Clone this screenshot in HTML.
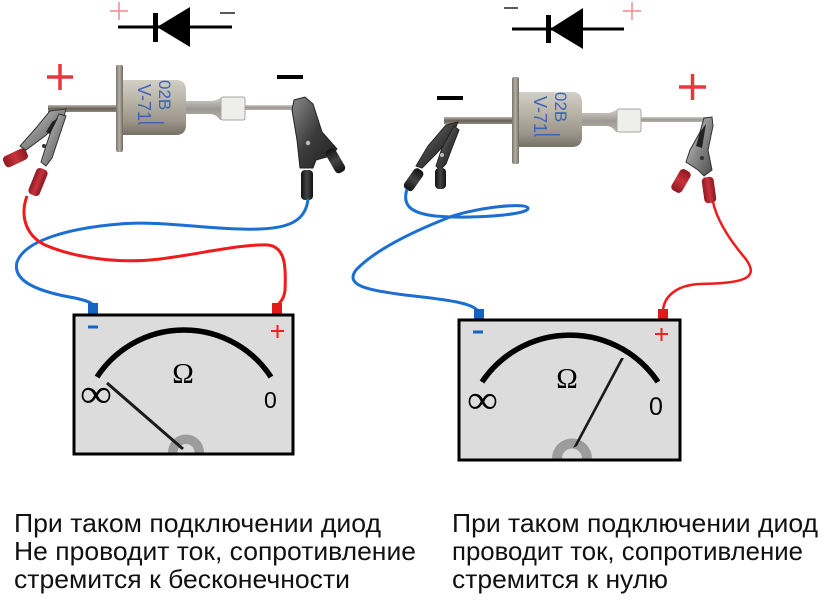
<!DOCTYPE html>
<html><head><meta charset="utf-8"><style>
html,body{margin:0;padding:0;background:#fff;}
svg{display:block;}
</style></head><body>
<svg width="830" height="602" viewBox="0 0 830 602" xmlns="http://www.w3.org/2000/svg">
<defs>
<linearGradient id="bodyG" x1="0" y1="0" x2="0" y2="1">
<stop offset="0" stop-color="#d2cfc6"/><stop offset="0.35" stop-color="#bab6aa"/><stop offset="0.75" stop-color="#9b9689"/><stop offset="1" stop-color="#767165"/>
</linearGradient>
<linearGradient id="leadG" x1="0" y1="0" x2="0" y2="1">
<stop offset="0" stop-color="#bdb8b0"/><stop offset="0.5" stop-color="#6a6258"/><stop offset="1" stop-color="#8e877e"/>
</linearGradient>
<linearGradient id="lead2G" x1="0" y1="0" x2="0" y2="1">
<stop offset="0" stop-color="#d0cdc8"/><stop offset="0.5" stop-color="#9c9892"/><stop offset="1" stop-color="#b4b0aa"/>
</linearGradient>
<linearGradient id="flG" x1="0" y1="0" x2="1" y2="0">
<stop offset="0" stop-color="#7a746a"/><stop offset="0.5" stop-color="#b5b0a5"/><stop offset="1" stop-color="#6f695f"/>
</linearGradient>
<linearGradient id="silverG" x1="0" y1="0" x2="1" y2="1">
<stop offset="0" stop-color="#d6d6d6"/><stop offset="0.5" stop-color="#8a8a8a"/><stop offset="1" stop-color="#4a4a4a"/>
</linearGradient>
<linearGradient id="darkG" x1="0" y1="0" x2="1" y2="1">
<stop offset="0" stop-color="#8a8a8a"/><stop offset="0.5" stop-color="#3c3c3c"/><stop offset="1" stop-color="#1e1e1e"/>
</linearGradient>
<linearGradient id="redG" x1="0" y1="0" x2="1" y2="0">
<stop offset="0" stop-color="#8e1a22"/><stop offset="0.5" stop-color="#c8323c"/><stop offset="1" stop-color="#8a1820"/>
</linearGradient>
<linearGradient id="blkG" x1="0" y1="0" x2="1" y2="0">
<stop offset="0" stop-color="#111"/><stop offset="0.5" stop-color="#444"/><stop offset="1" stop-color="#111"/>
</linearGradient>

<g id="diode">
  <rect x="48" y="105" width="70" height="7" fill="url(#leadG)"/>
  <rect x="116" y="65" width="7" height="87" rx="2" fill="url(#flG)"/>
  <path d="M123,80 H176 Q186,80 186,90 V125 Q186,135 176,135 H123 Z" fill="url(#bodyG)"/>
  <path d="M186,101 H210 Q216,101 220,98 H245 V120 H220 Q216,114 210,114 H186 Z" fill="url(#lead2G)"/>
  <rect x="221" y="97" width="24" height="23" rx="2" fill="#eeeeec" stroke="#a8a6a0" stroke-width="1"/>
  <rect x="245" y="105" width="68" height="5" fill="url(#lead2G)"/>
  <text transform="translate(159,80) rotate(90)" font-family="Liberation Sans, sans-serif" font-size="17" fill="#3d63b5">02B</text>
  <text transform="translate(138,84) rotate(90)" font-family="Liberation Sans, sans-serif" font-size="18" fill="#3d63b5">V-71.</text>
  <rect x="140" y="122" width="24" height="1.5" fill="#3d63b5"/>
</g>
</defs>

<!-- ===== LEFT ===== -->
<line x1="118" y1="27" x2="232" y2="27" stroke="#000" stroke-width="3"/>
<rect x="153" y="13" width="5" height="29" fill="#000"/>
<polygon points="157,27 190,7 190,47" fill="#000"/>
<line x1="110" y1="11" x2="128" y2="11" stroke="#f08a8a" stroke-width="1.5"/>
<line x1="119" y1="2" x2="119" y2="20" stroke="#f08a8a" stroke-width="1.5"/>
<line x1="220" y1="13" x2="235" y2="13" stroke="#000" stroke-width="1.3"/>

<line x1="47" y1="77" x2="73" y2="77" stroke="#e8383e" stroke-width="3.5"/>
<line x1="60" y1="64" x2="60" y2="90" stroke="#e8383e" stroke-width="3.5"/>
<line x1="277" y1="77" x2="303" y2="77" stroke="#000" stroke-width="4"/>

<use href="#diode"/>

<polygon points="50,111 66,109 63,120 45,136 26,150 20,146 36,128" fill="url(#silverG)" stroke="#333" stroke-width="1"/>
<polygon points="59,114 66,116 58,140 52,158 46,166 41,162 46,146 52,128" fill="url(#silverG)" stroke="#333" stroke-width="1"/>
<circle cx="44" cy="146" r="2" fill="#333"/>
<polygon points="52,122 58,118 50,134 46,132" fill="#222"/>
<rect x="3" y="152" width="25" height="12" rx="4" fill="url(#redG)" transform="rotate(-25 15 158)"/>
<rect x="32" y="168" width="12" height="28" rx="4" fill="url(#redG)" transform="rotate(22 38 182)"/>

<polygon points="294,100 305,97 313,104 322,132 337,149 330,156 316,160 313,168 300,168 297,140 292,110" fill="url(#darkG)" stroke="#222" stroke-width="1"/>
<circle cx="308" cy="143" r="2.2" fill="#bbb"/>
<rect x="322" y="155" width="26" height="11" rx="4" fill="url(#blkG)" transform="rotate(60 335 161)"/>
<rect x="301" y="170" width="12" height="30" rx="4" fill="url(#blkG)"/>

<path d="M308,199 C306,220 290,228 260,229 C220,231 160,220 120,224 C70,228 25,240 17,262 C12,282 40,292 75,298 C88,301 93,303 93,306" fill="none" stroke="#1b6fd2" stroke-width="3"/>
<path d="M27,196 C20,215 25,235 45,245 C75,258 120,264 160,259 C200,254 240,244 268,245 C286,247 286,268 285,290 C284,300 279,303 277,306" fill="none" stroke="#ee1c1c" stroke-width="3"/>
<rect x="88" y="303" width="10" height="11" fill="#1565c0"/>
<rect x="272" y="303" width="10" height="11" fill="#e11a1a"/>

<rect x="74" y="315" width="219" height="139" fill="#dcdcdc" stroke="#000" stroke-width="3"/>
<line x1="88" y1="327" x2="98" y2="327" stroke="#1565c0" stroke-width="3"/>
<line x1="271" y1="331" x2="284" y2="331" stroke="#ee2222" stroke-width="2"/>
<line x1="277.5" y1="325" x2="277.5" y2="338" stroke="#ee2222" stroke-width="2"/>
<path d="M97,377 A104,104 0 0,1 271,377" fill="none" stroke="#000" stroke-width="5.5"/>
<text x="183" y="383" text-anchor="middle" font-family="Liberation Serif, serif" font-size="29" fill="#000">Ω</text>
<text x="80" y="407" font-family="Liberation Serif, DejaVu Serif, serif" font-size="40" textLength="32" lengthAdjust="spacingAndGlyphs" fill="#000">∞</text>
<text x="264" y="408" font-family="Liberation Sans, sans-serif" font-size="23" fill="#000">0</text>
<path d="M168,452.5 A18,18 0 0,1 204,452.5 L194.5,452.5 A8.5,8.5 0 0,0 177.5,452.5 Z" fill="#9c9c9c"/>
<line x1="107" y1="383" x2="183" y2="449" stroke="#1a1a1a" stroke-width="3"/>

<!-- ===== RIGHT ===== -->
<line x1="512" y1="29" x2="624" y2="29" stroke="#000" stroke-width="3"/>
<rect x="546" y="15" width="5" height="28" fill="#000"/>
<polygon points="550,29 583,8 583,49" fill="#000"/>
<line x1="504" y1="8" x2="518" y2="8" stroke="#000" stroke-width="1.3"/>
<line x1="623" y1="11" x2="641" y2="11" stroke="#f08a8a" stroke-width="1.5"/>
<line x1="632" y1="2" x2="632" y2="20" stroke="#f08a8a" stroke-width="1.5"/>

<line x1="437" y1="98" x2="463" y2="98" stroke="#000" stroke-width="4"/>
<line x1="679" y1="87" x2="706" y2="87" stroke="#e8383e" stroke-width="3.5"/>
<line x1="692.5" y1="74" x2="692.5" y2="100" stroke="#e8383e" stroke-width="3.5"/>

<use href="#diode" transform="translate(396,12)"/>

<polygon points="446,125 458,122 452,136 436,154 422,168 416,166 428,146" fill="url(#darkG)" stroke="#222" stroke-width="1"/>
<polygon points="454,126 459,130 452,148 446,164 440,170 436,166 442,148" fill="url(#darkG)" stroke="#222" stroke-width="1"/>
<circle cx="442" cy="155" r="2" fill="#bbb"/>
<rect x="402" y="174" width="24" height="11" rx="4" fill="url(#blkG)" transform="rotate(-55 414 180)"/>
<rect x="435" y="168" width="11" height="21" rx="4" fill="url(#blkG)"/>

<polygon points="704,118 712,117 713,126 708,150 712,170 704,176 698,170 686,162 690,150 700,132" fill="url(#silverG)" stroke="#333" stroke-width="1"/>
<polygon points="700,132 706,124 702,148 696,146" fill="#222"/>
<circle cx="702" cy="158" r="2" fill="#333"/>
<rect x="669" y="175" width="24" height="12" rx="4" fill="url(#redG)" transform="rotate(-60 681 181)"/>
<rect x="703" y="177" width="12" height="26" rx="4" fill="url(#redG)" transform="rotate(-8 709 190)"/>

<path d="M407,189 C402,205 410,213 435,216 C470,219 530,215 528,208 C525,202 470,208 445,219 C410,233 375,250 356,270 C345,285 365,290 405,295 C450,300 472,303 478,311" fill="none" stroke="#1b6fd2" stroke-width="3"/>
<path d="M713,202 C717,220 728,238 745,258 C762,280 740,283 700,284 C675,285 663,298 663,312" fill="none" stroke="#ee1c1c" stroke-width="2.5"/>
<rect x="474" y="309" width="10" height="10" fill="#1565c0"/>
<rect x="658" y="309" width="10" height="10" fill="#e11a1a"/>

<rect x="459" y="320" width="221" height="140" fill="#dcdcdc" stroke="#000" stroke-width="3"/>
<line x1="473" y1="332" x2="483" y2="332" stroke="#1565c0" stroke-width="3"/>
<line x1="655" y1="334" x2="668" y2="334" stroke="#ee2222" stroke-width="2"/>
<line x1="661.5" y1="328" x2="661.5" y2="341" stroke="#ee2222" stroke-width="2"/>
<path d="M482,382 A106,106 0 0,1 658,382" fill="none" stroke="#000" stroke-width="5.5"/>
<text x="567" y="388" text-anchor="middle" font-family="Liberation Serif, serif" font-size="29" fill="#000">Ω</text>
<text x="467" y="413" font-family="Liberation Serif, DejaVu Serif, serif" font-size="40" textLength="31" lengthAdjust="spacingAndGlyphs" fill="#000">∞</text>
<text x="649" y="415" font-family="Liberation Sans, sans-serif" font-size="25" fill="#000">0</text>
<path d="M552,458.5 A20,20 0 0,1 592,458.5 L582,458.5 A10,10 0 0,0 562,458.5 Z" fill="#9c9c9c"/>
<polygon points="573,448 577,446 624,358 621,358" fill="#1a1a1a"/>

<g font-family="Liberation Sans, Arial, sans-serif" font-size="26" fill="#111">
<text x="14" y="532" textLength="367" lengthAdjust="spacingAndGlyphs">При таком подключении диод</text>
<text x="14" y="560" textLength="402" lengthAdjust="spacingAndGlyphs">Не проводит ток, сопротивление</text>
<text x="14" y="588" textLength="336" lengthAdjust="spacingAndGlyphs">стремится к бесконечности</text>
<text x="452" y="532" textLength="366" lengthAdjust="spacingAndGlyphs">При таком подключении диод</text>
<text x="452" y="560" textLength="351" lengthAdjust="spacingAndGlyphs">проводит ток, сопротивление</text>
<text x="452" y="588" textLength="216" lengthAdjust="spacingAndGlyphs">стремится к нулю</text>
</g>
</svg>
</body></html>
